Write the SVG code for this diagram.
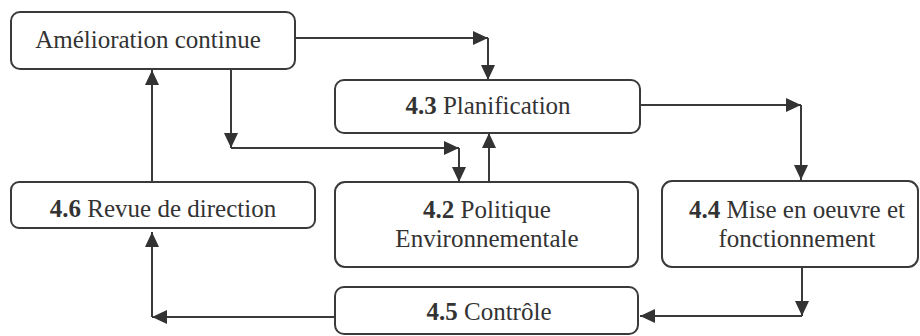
<svg xmlns="http://www.w3.org/2000/svg" width="920" height="336" viewBox="0 0 920 336">
  <style>
    .box { fill: #ffffff; stroke: #3a3a3a; stroke-width: 2; }
    text { font-family: 'Liberation Serif', 'DejaVu Serif', serif; font-size: 25px; fill: #333333; text-anchor: middle; }
    .num { font-weight: bold; }
    .wire { fill: none; stroke: #3a3a3a; stroke-width: 2; }
  </style>
  <defs>
    <marker id="head" markerUnits="userSpaceOnUse" markerWidth="15" markerHeight="14" refX="15" refY="7" orient="auto">
      <path d="M0,0 L15,7 L0,14 z" fill="#333333"/>
    </marker>
  </defs>
  <rect width="920" height="336" fill="#ffffff"/>

  <g id="connectors">
    <!-- Amélioration continue -> 4.3 -->
    <path class="wire" d="M295,38 H488" marker-end="url(#head)"/>
    <path class="wire" d="M488,38 V80" marker-end="url(#head)"/>
    <!-- Amélioration continue -> 4.2 -->
    <path class="wire" d="M231,69 V148" marker-end="url(#head)"/>
    <path class="wire" d="M231,148 H459" marker-end="url(#head)"/>
    <path class="wire" d="M459,148 V182" marker-end="url(#head)"/>
    <!-- 4.2 -> 4.3 -->
    <path class="wire" d="M489,182 V133" marker-end="url(#head)"/>
    <!-- 4.3 -> 4.4 -->
    <path class="wire" d="M640,105 H801" marker-end="url(#head)"/>
    <path class="wire" d="M801,105 V180" marker-end="url(#head)"/>
    <!-- 4.4 -> 4.5 -->
    <path class="wire" d="M802,267 V316" marker-end="url(#head)"/>
    <path class="wire" d="M802,316 H640" marker-end="url(#head)"/>
    <!-- 4.5 -> 4.6 -->
    <path class="wire" d="M335,317 H152" marker-end="url(#head)"/>
    <path class="wire" d="M152,317 V232" marker-end="url(#head)"/>
    <!-- 4.6 -> Amélioration continue -->
    <path class="wire" d="M152,182 V70" marker-end="url(#head)"/>
  </g>

  <g id="amelioration">
    <rect class="box" x="11" y="12" width="284" height="57" rx="9"/>
    <text x="148" y="48">Amélioration continue</text>
  </g>

  <g id="planification">
    <rect class="box" x="335" y="80" width="305" height="53" rx="9"/>
    <text x="488" y="114"><tspan class="num">4.3</tspan> Planification</text>
  </g>

  <g id="politique">
    <rect class="box" x="335" y="182" width="303" height="85" rx="10"/>
    <text x="487" y="218"><tspan class="num">4.2</tspan> Politique</text>
    <text x="487" y="247">Environnementale</text>
  </g>

  <g id="mise-en-oeuvre">
    <rect class="box" x="662" y="181" width="256" height="86" rx="10"/>
    <text x="797" y="218"><tspan class="num">4.4</tspan> Mise en oeuvre et</text>
    <text x="797" y="247">fonctionnement</text>
  </g>

  <g id="revue">
    <rect class="box" x="11" y="182" width="304" height="46" rx="8"/>
    <text x="163" y="217"><tspan class="num">4.6</tspan> Revue de direction</text>
  </g>

  <g id="controle">
    <rect class="box" x="335" y="287" width="303" height="47" rx="9"/>
    <text x="489" y="320"><tspan class="num">4.5</tspan> Contrôle</text>
  </g>
</svg>
